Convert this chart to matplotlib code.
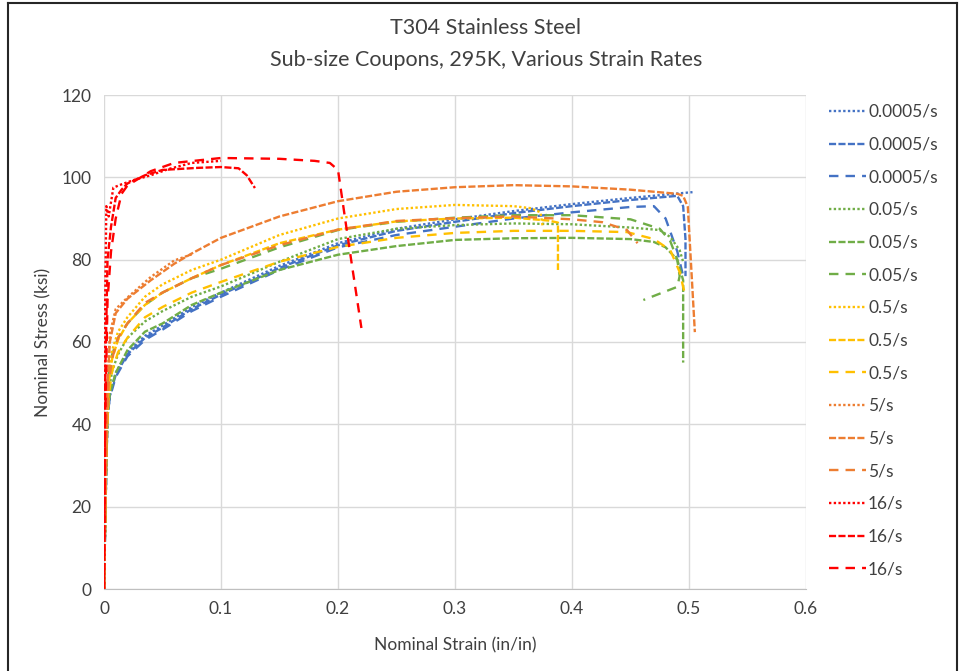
import matplotlib
matplotlib.use("Agg")
import matplotlib.pyplot as plt
from matplotlib.lines import Line2D

plt.rcParams['font.family'] = ['Lato', 'DejaVu Sans']

# ---- data: nominal strain (in/in) and nominal stress (ksi) per test ----
labels = ["0.0005/s", "0.0005/s", "0.0005/s",
          "0.05/s", "0.05/s", "0.05/s",
          "0.5/s", "0.5/s", "0.5/s",
          "5/s", "5/s", "5/s",
          "16/s", "16/s", "16/s"]

b1_strain = [0, .001, .002, .003, .005, .01, .02, .035, .05, .075, .1, .15, .2, .25, .3, .35, .4, .45, .48, .503]
b1_stress = [0, 15, 30, 42, 47, 52.5, 57.5, 61.5, 64, 68.5, 72, 78.5, 84, 87.5, 89.8, 91.8, 93.5, 95, 95.8, 96.4]
b2_strain = [0, .001, .002, .003, .005, .01, .02, .035, .05, .075, .1, .15, .2, .25, .3, .35, .4, .45, .49, .495, .497, .497]
b2_stress = [0, 15, 30, 42, 47, 52, 57, 61, 63.5, 68, 71.5, 78, 83.5, 87, 89.2, 91.3, 93, 94.5, 95.5, 93, 85, 76]
b3_strain = [0, .001, .002, .003, .005, .01, .02, .035, .05, .075, .1, .15, .2, .25, .3, .35, .4, .45, .47, .48, .49, .495]
b3_stress = [0, 15, 30, 42, 46.5, 51.5, 56.5, 60.5, 63, 67.5, 71, 77.5, 83, 86, 88, 90, 91.5, 92.8, 93, 90, 82, 76]

g1_strain = [0, .001, .002, .004, .007, .012, .02, .035, .05, .075, .1, .15, .2, .25, .3, .35, .4, .45, .475, .484, .492, .495]
g1_stress = [0, 17, 34, 48, 53, 57, 61, 65, 67.5, 71, 73.5, 79.5, 85, 87.5, 88.4, 88.8, 88.6, 87.8, 87.2, 85.5, 82.3, 79.5]
g2_strain = [0, .001, .002, .003, .005, .01, .02, .035, .05, .075, .1, .15, .2, .25, .3, .35, .4, .45, .47, .48, .49, .495, .495]
g2_stress = [0, 15, 30, 42, 47.5, 52.5, 58, 62.5, 64.5, 69, 72, 77.5, 81.2, 83.3, 84.8, 85.2, 85.3, 85, 84.3, 83, 80, 75, 55]
g3_strain = [0, .001, .002, .004, .007, .012, .02, .035, .05, .075, .1, .15, .2, .25, .3, .35, .4, .45, .475, .484, .49, .492, .49, .461]
g3_stress = [0, 18, 36, 52, 57, 61, 64.5, 69, 72, 75.5, 77.8, 83, 87.2, 89.2, 90.2, 90.8, 90.8, 89.8, 87.5, 84.5, 80, 76, 73.4, 70.2]

y1_strain = [0, .001, .002, .004, .007, .012, .02, .035, .05, .075, .1, .15, .2, .25, .3, .35, .365, .373, .375]
y1_stress = [0, 18, 36, 52, 58, 62.5, 66, 71, 74, 77.5, 80, 86, 90, 92.3, 93.3, 93, 92.5, 91.5, 88]
y2_strain = [0, .001, .002, .004, .007, .012, .02, .035, .05, .075, .1, .15, .2, .25, .3, .35, .38, .388, .388]
y2_stress = [0, 18, 36, 50, 56, 60.5, 64.5, 69, 72, 75.5, 78.7, 84, 87.3, 89.3, 90, 90.2, 89.5, 89, 77.5]
y3_strain = [0, .001, .002, .004, .007, .012, .02, .035, .05, .075, .1, .15, .2, .25, .3, .35, .4, .447, .47, .484, .492, .497]
y3_stress = [0, 17, 34, 47, 53, 57.5, 61, 66, 68.5, 72, 74.6, 79.5, 83.1, 85.3, 86.5, 87, 87, 86.7, 85, 82.3, 77, 71]

o1_strain = [0, .001, .002, .003, .005, .01, .02, .04, .06, .075]
o1_stress = [0, 18, 36, 50, 62, 68, 70.8, 75.8, 79.8, 81.3]
o2_strain = [0, .001, .002, .003, .005, .01, .02, .04, .06, .075, .1, .15, .2, .25, .3, .35, .4, .45, .49, .495, .499, .505]
o2_stress = [0, 18, 36, 50, 60, 67, 70.5, 75, 79, 81.5, 85.3, 90.5, 94.2, 96.5, 97.6, 98.1, 97.8, 97, 96, 95.5, 92.8, 62.4]
o3_strain = [0, .001, .002, .004, .007, .012, .02, .035, .05, .075, .1, .15, .2, .25, .3, .35, .4, .426, .447, .456]
o3_stress = [0, 18, 36, 50, 56, 61, 64.5, 69.5, 72, 75.5, 78.7, 83.5, 87.3, 89.4, 90.1, 90.5, 89.8, 89.1, 87.2, 84]

r1_strain = [0, .0005, .001, .002, .004, .008, .015, .025, .04, .055, .075, .1]
r1_stress = [0, 40, 70, 93, 90.5, 97.5, 98.3, 99.3, 100.5, 102, 103.5, 104]
r2_strain = [0, .001, .003, .006, .01, .015, .02, .035, .05, .08, .1, .115, .122, .129]
r2_stress = [0, 50, 80, 88, 95, 97, 98.5, 100.5, 101.8, 102.3, 102.5, 102.2, 100.5, 97.4]
r3_strain = [0, .001, .003, .006, .01, .015, .02, .04, .06, .1, .15, .18, .193, .2, .21, .22]
r3_stress = [0, 40, 70, 82, 90, 96, 98, 101.5, 103.5, 104.7, 104.5, 104, 103.5, 101.8, 82.3, 63.4]

x_ticks = [0, 0.1, 0.2, 0.3, 0.4, 0.5, 0.6]
y_ticks = [0, 20, 40, 60, 80, 100, 120]

series = [(b1_strain, b1_stress), (b2_strain, b2_stress), (b3_strain, b3_stress),
          (g1_strain, g1_stress), (g2_strain, g2_stress), (g3_strain, g3_stress),
          (y1_strain, y1_stress), (y2_strain, y2_stress), (y3_strain, y3_stress),
          (o1_strain, o1_stress), (o2_strain, o2_stress), (o3_strain, o3_stress),
          (r1_strain, r1_stress), (r2_strain, r2_stress), (r3_strain, r3_stress)]

# ---- styling ----
palette = ["#4472C4", "#70AD47", "#FFC000", "#ED7D31", "#FF0000"]
dash_styles = [(0, (1, 1)), (0, (3, 1)), (0, (4, 3))]
text_color = "#404040"
grid_color = "#D9D9D9"
small = 12.5

fig = plt.figure(figsize=(9.62, 6.71), dpi=100)
ax = fig.add_axes([104 / 962, 82 / 671, 702 / 962, 494 / 671])

for i, ((xs, ys), lab) in enumerate(zip(series, labels)):
    ax.plot(xs, ys, color=palette[i // 3], linestyle=dash_styles[i % 3],
            linewidth=1.7, label=lab, dash_capstyle='butt')

ax.set_xlim(0, 0.6)
ax.set_ylim(0, 120)
ax.set_xticks(x_ticks)
ax.set_xticklabels([f"{t:g}" for t in x_ticks])
ax.set_yticks(y_ticks)
ax.set_yticklabels([str(t) for t in y_ticks])
ax.grid(True, color=grid_color, linewidth=1.0)
ax.set_axisbelow(True)
for side in ("top", "right", "left"):
    ax.spines[side].set_visible(False)
ax.spines["bottom"].set_color("#BFBFBF")
ax.tick_params(length=0, labelsize=small, labelcolor=text_color, pad=9)

ax.set_xlabel("Nominal Strain (in/in)", fontsize=small, color=text_color, labelpad=14)
ax.set_ylabel("Nominal Stress (ksi)", fontsize=small, color=text_color, labelpad=7)

fig.text(0.505, 1 - 28 / 671, "T304 Stainless Steel", ha="center", va="center",
         fontsize=15.5, color=text_color)
fig.text(0.505, 1 - 60 / 671, "Sub-size Coupons, 295K, Various Strain Rates",
         ha="center", va="center", fontsize=15.5, color=text_color)

leg = ax.legend(loc="upper left", bbox_to_anchor=(822 / 962, 1 - 97 / 671),
                bbox_transform=fig.transFigure, frameon=False, fontsize=small,
                handlelength=2.15, handletextpad=0.1, labelspacing=0.96,
                borderaxespad=0)
for t in leg.get_texts():
    t.set_color(text_color)

# outer chart border
for xy in ([(8 / 962, 8 / 962), (0, 1 - 3 / 671)],
           [(8 / 962, 957 / 962), (1 - 3 / 671, 1 - 3 / 671)],
           [(957 / 962, 957 / 962), (0, 1 - 3 / 671)]):
    fig.add_artist(Line2D(xy[0], xy[1], color="#262626", linewidth=1.5,
                          transform=fig.transFigure))

fig.savefig("out.png", dpi=100, facecolor="white")
